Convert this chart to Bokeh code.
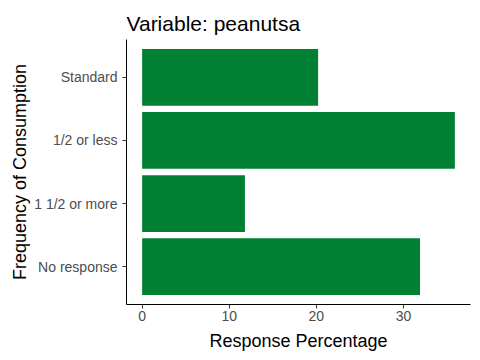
from bokeh.plotting import figure
from bokeh.models import FactorRange, Range1d, FixedTicker, ColumnDataSource, Title
from bokeh.embed import file_html
from bokeh.resources import INLINE

categories = ["No response", "1 1/2 or more", "1/2 or less", "Standard"]
percentages = [31.9, 11.8, 35.9, 20.2]
x_ticks = [0, 10, 20, 30]
title_text = "Variable: peanutsa"
x_title = "Response Percentage"
y_title = "Frequency of Consumption"

FONT = "Liberation Sans"
BAR = "#008033"

src = ColumnDataSource(dict(cat=categories, pct=percentages))
xmax = max(percentages)
pad = xmax * 0.05

p = figure(
    y_range=FactorRange(factors=categories, range_padding=0.05, range_padding_units="percent"),
    x_range=Range1d(-pad, xmax + pad),
    frame_width=344, frame_height=265,
    min_border_left=126, min_border_right=2, min_border_top=39, min_border_bottom=50,
    output_backend="svg", toolbar_location=None,
)
p.hbar(y="cat", right="pct", left=0, height=0.9, source=src, color=BAR, line_color=None)

p.title.text = title_text
p.title.align = "left"
p.title.text_font = FONT
p.title.text_font_size = "21px"
p.title.text_font_style = "normal"
p.title.text_color = "black"
p.title.standoff = 9

p.add_layout(Title(text=y_title, align="center", text_font=FONT, text_font_size="18px",
                   text_font_style="normal", text_color="black", standoff=4), "left")

p.outline_line_color = None
p.xgrid.grid_line_color = None
p.ygrid.grid_line_color = None
p.background_fill_color = "white"
p.border_fill_color = "white"

for ax in (p.xaxis[0], p.yaxis[0]):
    ax.axis_line_color = "black"
    ax.axis_line_width = 1
    ax.major_tick_out = 4
    ax.major_tick_in = 0
    ax.minor_tick_line_color = None
    ax.major_tick_line_color = "#333333"
    ax.major_label_text_font = FONT
    ax.major_label_text_font_size = "14px"
    ax.major_label_text_color = "#4D4D4D"

p.xaxis.ticker = FixedTicker(ticks=x_ticks)
p.xaxis.major_label_standoff = 2
p.xaxis.axis_label = x_title
p.xaxis.axis_label_text_font = FONT
p.xaxis.axis_label_text_font_size = "18px"
p.xaxis.axis_label_text_font_style = "normal"
p.xaxis.axis_label_text_color = "black"
p.xaxis.axis_label_standoff = 7
p.yaxis.major_label_standoff = 5

open("out.html", "w").write(file_html(p, INLINE))
